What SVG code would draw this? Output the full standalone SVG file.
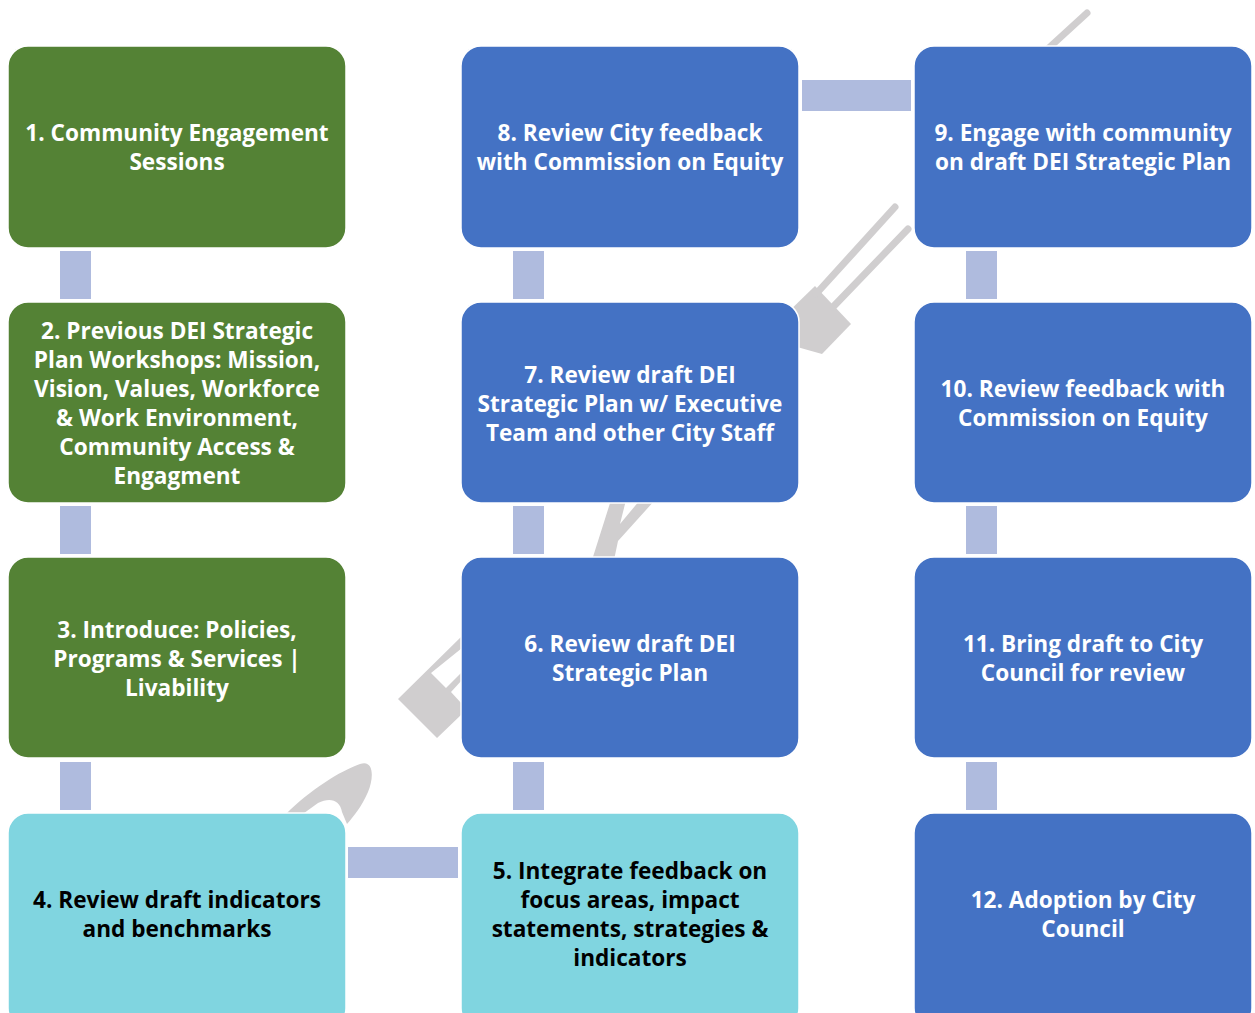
<svg xmlns="http://www.w3.org/2000/svg" width="1255" height="1013" viewBox="0 0 1255 1013">
<style>
.box{stroke:#ffffff;stroke-width:1.5}
.g{fill:#548235}
.b{fill:#4472C4}
.t{fill:#80D5E0}
.c{fill:#AFBBDE}
.wm{fill:#D0CECF}
.wl{stroke:#D0CECF;stroke-width:7;stroke-linecap:round;fill:none}
text{font-family:"Open Sans","Noto Sans","Liberation Sans",sans-serif;font-weight:700;font-size:22.6px;text-anchor:middle}
.w{fill:#ffffff}
.k{fill:#000000}
</style>
<rect width="1255" height="1013" fill="#ffffff"/>
<g id="watermark">
<path class="wm" d="M286 814 C310 790 340 771 360 764 C374 759 374 778 368 792 C362 806 354 816 347 824 L342 812 C340 800 330 797 318 803 L300 816 Z"/>
<path class="wm" d="M398 699 L462 636 L462 648 L431 673 L446 688 L462 672 L462 680 L451 692 L462 704 L462 714 L437 738 Z"/>
<path class="wm" d="M611 500 L626 500 L620 524 L640 500 L655 500 L618 541 L614 560 L592 560 Z"/>
<path class="wm" d="M780 320 L815 286 L851 324 L822 354 L790 345 Z"/>
<line class="wl" x1="816" y1="294" x2="895" y2="207"/>
<line class="wl" x1="833" y1="307" x2="908" y2="229"/>
<line class="wl" x1="1040" y1="56" x2="1087" y2="13"/>
</g>
<g id="connectors">
<rect class="c" x="60" y="251" width="31" height="48"/>
<rect class="c" x="60" y="506" width="31" height="48"/>
<rect class="c" x="60" y="762" width="31" height="48"/>
<rect class="c" x="348" y="847" width="110" height="31"/>
<rect class="c" x="513" y="762" width="31" height="48"/>
<rect class="c" x="513" y="506" width="31" height="48"/>
<rect class="c" x="513" y="251" width="31" height="48"/>
<rect class="c" x="802" y="80" width="109" height="31"/>
<rect class="c" x="966" y="251" width="31" height="48"/>
<rect class="c" x="966" y="506" width="31" height="48"/>
<rect class="c" x="966" y="762" width="31" height="48"/>
</g>
<g id="node1">
<rect class="box g" x="8" y="46" width="338" height="202" rx="20"/>
<text class="w" x="177" y="141">1. Community Engagement<tspan x="177" dy="29">Sessions</tspan></text>
</g>
<g id="node2">
<rect class="box g" x="8" y="302" width="338" height="201" rx="20"/>
<text class="w" x="177" y="339">2. Previous DEI Strategic<tspan x="177" dy="29">Plan Workshops: Mission,</tspan><tspan x="177" dy="29">Vision, Values, Workforce</tspan><tspan x="177" dy="29">&amp; Work Environment,</tspan><tspan x="177" dy="29">Community Access &amp;</tspan><tspan x="177" dy="29">Engagment</tspan></text>
</g>
<g id="node3">
<rect class="box g" x="8" y="557" width="338" height="201" rx="20"/>
<text class="w" x="177" y="638">3. Introduce: Policies,<tspan x="177" dy="29">Programs &amp; Services |</tspan><tspan x="177" dy="29">Livability</tspan></text>
</g>
<g id="node4">
<rect class="box t" x="8" y="813" width="338" height="215" rx="20"/>
<text class="k" x="177" y="908">4. Review draft indicators<tspan x="177" dy="29">and benchmarks</tspan></text>
</g>
<g id="node5">
<rect class="box t" x="461" y="813" width="338" height="215" rx="20"/>
<text class="k" x="630" y="879">5. Integrate feedback on<tspan x="630" dy="29">focus areas, impact</tspan><tspan x="630" dy="29">statements, strategies &amp;</tspan><tspan x="630" dy="29">indicators</tspan></text>
</g>
<g id="node6">
<rect class="box b" x="461" y="557" width="338" height="201" rx="20"/>
<text class="w" x="630" y="652">6. Review draft DEI<tspan x="630" dy="29">Strategic Plan</tspan></text>
</g>
<g id="node7">
<rect class="box b" x="461" y="302" width="338" height="201" rx="20"/>
<text class="w" x="630" y="383">7. Review draft DEI<tspan x="630" dy="29">Strategic Plan w/ Executive</tspan><tspan x="630" dy="29">Team and other City Staff</tspan></text>
</g>
<g id="node8">
<rect class="box b" x="461" y="46" width="338" height="202" rx="20"/>
<text class="w" x="630" y="141">8. Review City feedback<tspan x="630" dy="29">with Commission on Equity</tspan></text>
</g>
<g id="node9">
<rect class="box b" x="914" y="46" width="338" height="202" rx="20"/>
<text class="w" x="1083" y="141">9. Engage with community<tspan x="1083" dy="29">on draft DEI Strategic Plan</tspan></text>
</g>
<g id="node10">
<rect class="box b" x="914" y="302" width="338" height="201" rx="20"/>
<text class="w" x="1083" y="397">10. Review feedback with<tspan x="1083" dy="29">Commission on Equity</tspan></text>
</g>
<g id="node11">
<rect class="box b" x="914" y="557" width="338" height="201" rx="20"/>
<text class="w" x="1083" y="652">11. Bring draft to City<tspan x="1083" dy="29">Council for review</tspan></text>
</g>
<g id="node12">
<rect class="box b" x="914" y="813" width="338" height="215" rx="20"/>
<text class="w" x="1083" y="908">12. Adoption by City<tspan x="1083" dy="29">Council</tspan></text>
</g>
</svg>
